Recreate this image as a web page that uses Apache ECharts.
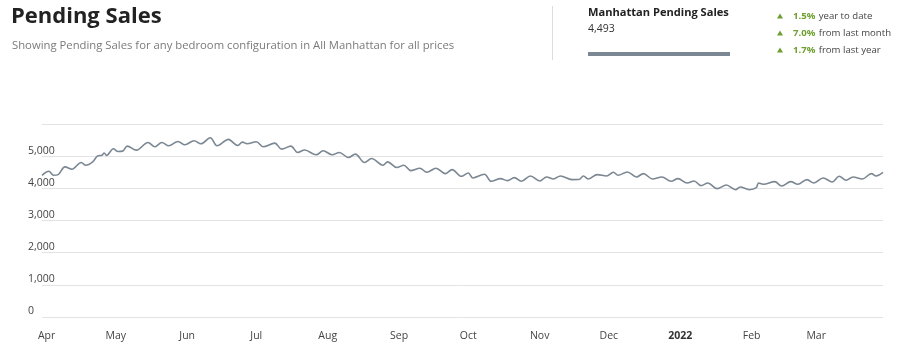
<!DOCTYPE html>
<html>
<head>
<meta charset="utf-8">
<script src="https://cdn.jsdelivr.net/npm/echarts@6/dist/echarts.min.js"></script>
<style>
html,body{margin:0;padding:0;background:#fff;}
#chart{width:923px;height:363px;}
</style>
</head>
<body>
<div id="chart"></div>
<script>
// ---- data ----
const dates = [
 '2021-03-30','2021-04-02','2021-04-04','2021-04-06','2021-04-09','2021-04-12','2021-04-16','2021-04-18','2021-04-21','2021-04-23',
 '2021-04-25','2021-04-26','2021-04-27','2021-04-30','2021-05-02','2021-05-04','2021-05-06','2021-05-10','2021-05-15','2021-05-18',
 '2021-05-21','2021-05-24','2021-05-28','2021-05-31','2021-06-04','2021-06-07','2021-06-11','2021-06-14','2021-06-19','2021-06-20',
 '2021-06-23','2021-06-25','2021-06-27','2021-07-01','2021-07-04','2021-07-09','2021-07-12','2021-07-16','2021-07-19','2021-07-22',
 '2021-07-27','2021-07-30','2021-08-03','2021-08-06','2021-08-10','2021-08-13','2021-08-17','2021-08-20','2021-08-25','2021-08-27',
 '2021-08-31','2021-09-03','2021-09-06','2021-09-10','2021-09-13','2021-09-17','2021-09-21','2021-09-24','2021-09-28','2021-10-01',
 '2021-10-03','2021-10-08','2021-10-11','2021-10-15','2021-10-18','2021-10-21','2021-10-24','2021-10-28','2021-11-01','2021-11-04',
 '2021-11-07','2021-11-10','2021-11-15','2021-11-18','2021-11-20','2021-11-22','2021-11-26','2021-11-30','2021-12-03','2021-12-05',
 '2021-12-09','2021-12-13','2021-12-16','2021-12-20','2021-12-24','2021-12-28','2021-12-31','2022-01-04','2022-01-07','2022-01-10',
 '2022-01-13','2022-01-17','2022-01-21','2022-01-25','2022-01-27','2022-01-31','2022-02-03','2022-02-04','2022-02-06','2022-02-11',
 '2022-02-14','2022-02-18','2022-02-21','2022-02-25','2022-02-28','2022-03-04','2022-03-08','2022-03-11','2022-03-14','2022-03-17',
 '2022-03-21','2022-03-25','2022-03-27','2022-03-30'
];
const pendingSales = [
 4406,4531,4406,4427,4667,4594,4802,4719,4823,5000,
 5031,5100,5021,5229,5146,5156,5313,5188,5427,5292,
 5427,5323,5458,5354,5479,5385,5573,5323,5521,5480,
 5333,5437,5385,5448,5292,5406,5219,5312,5115,5190,
 5042,5167,5042,5115,4958,5063,4802,4927,4719,4823,
 4646,4719,4552,4625,4500,4625,4458,4583,4375,4479,
 4323,4438,4219,4302,4240,4333,4219,4385,4229,4354,
 4292,4385,4271,4275,4385,4292,4427,4385,4500,4406,
 4510,4354,4458,4292,4354,4219,4302,4167,4229,4083,
 4167,3990,4104,3958,4042,3958,4020,4167,4125,4208,
 4073,4208,4125,4271,4167,4323,4198,4375,4250,4354,
 4292,4458,4385,4493
];
const monthTickDates = ['2021-04-01','2021-05-01','2021-06-01','2021-07-01','2021-08-01','2021-09-01','2021-10-01','2021-11-01','2021-12-01','2022-01-01','2022-02-01','2022-03-01'];
const monthTickLabels = ['Apr','May','Jun','Jul','Aug','Sep','Oct','Nov','Dec','2022','Feb','Mar'];
const yTicks = [0,1000,2000,3000,4000,5000,6000];
const axisStart = '2021-03-30';
const axisEnd = '2022-03-30';

// header texts
const titleText = 'Pending Sales';
const subtitleText = 'Showing Pending Sales for any bedroom configuration in All Manhattan for all prices';
const kpiTitle = 'Manhattan Pending Sales';
const kpiValue = '4,493';
const changes = [['1.5%','year to date'],['7.0%','from last month'],['1.7%','from last year']];

function ts(s){const p=s.split('-').map(Number);return Date.UTC(p[0],p[1]-1,p[2]);}

const seriesData = dates.map((d,i)=>[ts(d), pendingSales[i]]);
const tickTs = monthTickDates.map(ts);

const FONT = '"Open Sans", "Noto Sans", sans-serif';
const green = '#6d9f2e';
const lineColor = '#7b8792';

const graphics = [
  {type:'text', left:11, top:6, style:{text:titleText, font:'bold 22px '+FONT, fill:'#222'}},
  {type:'text', left:12, top:40, style:{text:subtitleText, font:'11.3px '+FONT, fill:'#7a7a7a'}},
  {type:'rect', left:552, top:6, shape:{width:1, height:54}, style:{fill:'#dcdcdc'}},
  {type:'text', left:588, top:7, style:{text:kpiTitle, font:'bold 11.1px '+FONT, fill:'#222'}},
  {type:'text', left:588, top:24, style:{text:kpiValue, font:'10.5px '+FONT, fill:'#333'}},
  {type:'rect', left:588, top:52, shape:{width:142, height:4}, style:{fill:lineColor}}
];
changes.forEach((c,i)=>{
  const y = 16 + i*17;
  graphics.push({type:'polygon', shape:{points:[[777,y+2.5],[783,y+2.5],[780,y-2.5]]}, style:{fill:green}});
  graphics.push({type:'text', left:793, top:y-6, style:{
    text:'{b|'+c[0]+'} {n|'+c[1]+'}',
    rich:{b:{font:'bold 9.6px '+FONT, fill:green}, n:{font:'9.6px '+FONT, fill:'#444'}}
  }});
});

const chart = echarts.init(document.getElementById('chart'), null, {renderer:'canvas'});
chart.setOption({
  animation:false,
  textStyle:{fontFamily:FONT},
  graphic: graphics,
  grid:{left:42, right:40, top:124, bottom:46, containLabel:false},
  xAxis:{
    type:'value', min:ts(axisStart), max:ts(axisEnd),
    axisLine:{show:false}, axisTick:{show:false}, splitLine:{show:false},
    axisLabel:{
      customValues: tickTs,
      margin:14, fontSize:10.5, color:'#444', fontFamily:FONT,
      formatter:function(v){
        const i = tickTs.indexOf(v);
        const lab = i>=0 ? monthTickLabels[i] : '';
        return lab==='2022' ? '{y|'+lab+'}' : lab;
      },
      rich:{y:{fontWeight:'bold', fontSize:10.5, color:'#333', fontFamily:FONT}}
    }
  },
  yAxis:{
    type:'value', min:0, max:6000, interval:1000,
    axisLine:{show:false}, axisTick:{show:false},
    splitLine:{lineStyle:{color:'#e3e3e3', width:1}},
    axisLabel:{
      inside:false, align:'left', margin:14, verticalAlign:'bottom',
      fontSize:10.5, color:'#444', fontFamily:FONT,
      formatter:function(v){ return v===yTicks[yTicks.length-1] ? '' : v.toLocaleString('en-US'); }
    }
  },
  series:[{
    type:'line', data:seriesData, showSymbol:false, smooth:0.35,
    lineStyle:{color:lineColor, width:1.6}, itemStyle:{color:lineColor}
  }]
});
</script>
</body>
</html>
